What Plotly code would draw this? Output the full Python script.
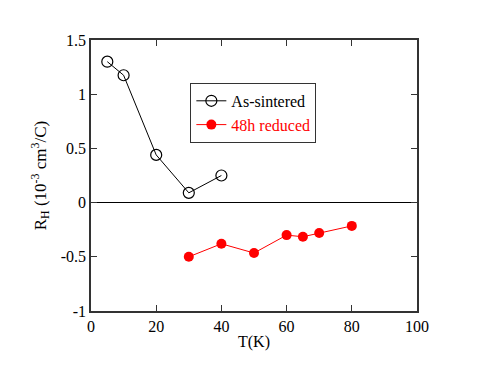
import plotly.graph_objects as go

t_sintered = [5, 10, 20, 30, 40]
rh_sintered = [1.30, 1.175, 0.44, 0.09, 0.25]
t_reduced = [30, 40, 50, 60, 65, 70, 80]
rh_reduced = [-0.50, -0.38, -0.465, -0.30, -0.315, -0.28, -0.215]
x_ticks = [0, 20, 40, 60, 80, 100]
y_ticks = [-1, -0.5, 0, 0.5, 1, 1.5]
y_ticktext = ["-1", "-0.5", "0", "0.5", "1", "1.5"]

FONT = "Liberation Serif"

fig = go.Figure()
fig.add_trace(go.Scatter(
    x=t_sintered, y=rh_sintered, mode="lines+markers", name="As-sintered",
    line=dict(color="black", width=1),
    marker=dict(symbol="circle-open", size=11, color="black", line=dict(width=1.2)),
))
fig.add_trace(go.Scatter(
    x=t_reduced, y=rh_reduced, mode="lines+markers",
    name="<span style='color:red'>48h reduced</span>",
    line=dict(color="red", width=1),
    marker=dict(symbol="circle", size=10, color="red"),
))

axis_common = dict(
    showgrid=False, showline=True, linecolor="#333", linewidth=1.5, mirror="ticks",
    ticks="inside", ticklen=6, tickcolor="#333", tickwidth=1, automargin=False,
    tickfont=dict(family=FONT, size=16, color="black"),
)
fig.update_layout(
    width=491, height=368,
    margin=dict(l=83, r=82, t=32, b=65),
    paper_bgcolor="white", plot_bgcolor="white",
    font=dict(family=FONT, size=16, color="black"),
    showlegend=True,
    legend=dict(x=0.498, y=0.731, xanchor="center", yanchor="middle",
                bordercolor="#333", borderwidth=1, bgcolor="white",
                font=dict(family=FONT, size=16, color="black"),
                tracegroupgap=0),
    xaxis=dict(range=[0, 100], tickvals=x_ticks, zeroline=False,
               title=dict(text="T(K)", font=dict(family=FONT, size=16), standoff=2),
               **axis_common),
    yaxis=dict(range=[-1, 1.5], tickvals=y_ticks, ticktext=y_ticktext,
               zeroline=True, zerolinecolor="black", zerolinewidth=1,
               title=dict(text="R<sub>H</sub> (10<sup>-3</sup> cm<sup>3</sup>/C)",
                          font=dict(family=FONT, size=17), standoff=10),
               **axis_common),
)
fig.write_html("out.html")
